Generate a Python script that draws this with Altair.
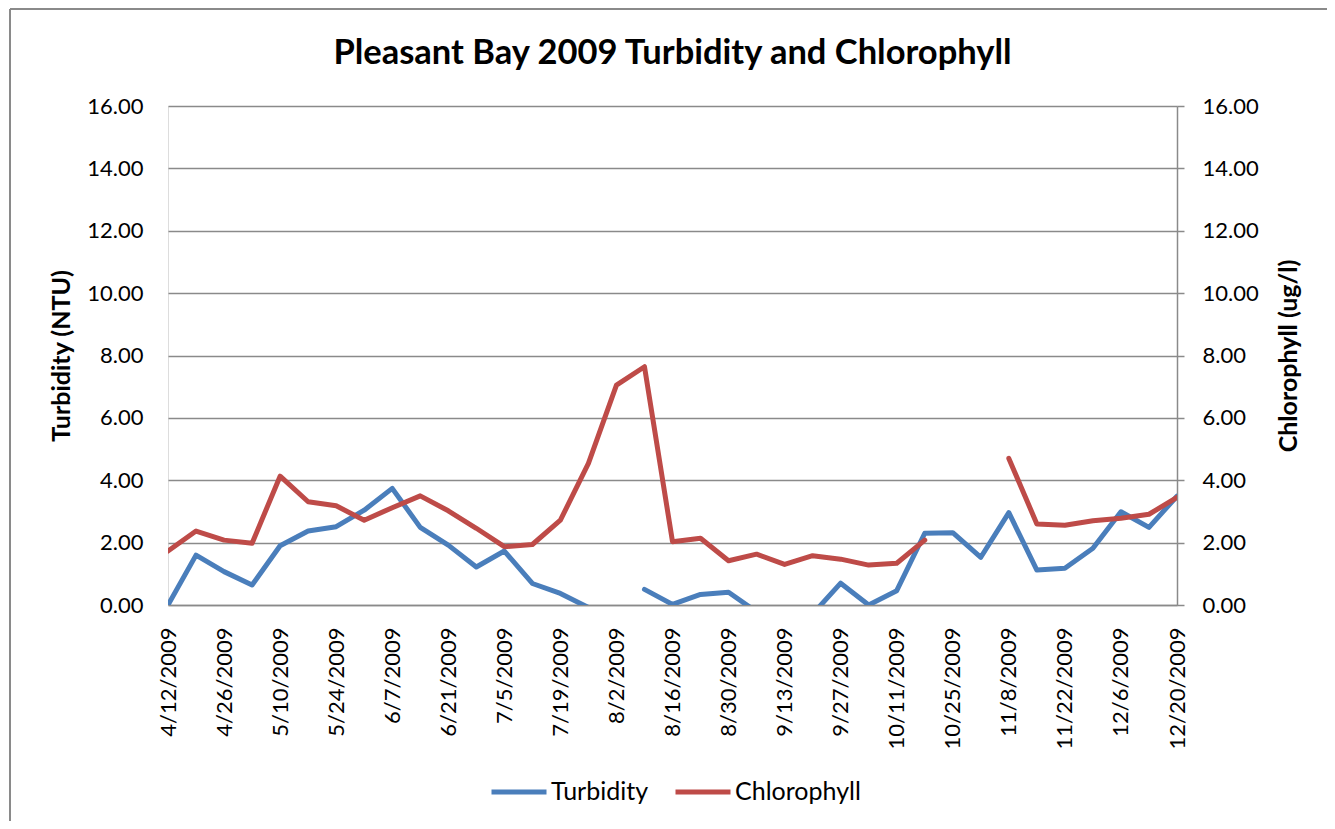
import altair as alt
import pandas as pd

dates = ["4/12/2009", "4/19/2009", "4/26/2009", "5/3/2009", "5/10/2009", "5/17/2009",
         "5/24/2009", "5/31/2009", "6/7/2009", "6/14/2009", "6/21/2009", "6/28/2009",
         "7/5/2009", "7/12/2009", "7/19/2009", "7/26/2009", "8/2/2009", "8/9/2009",
         "8/16/2009", "8/23/2009", "8/30/2009", "9/6/2009", "9/13/2009", "9/20/2009",
         "9/27/2009", "10/4/2009", "10/11/2009", "10/18/2009", "10/25/2009", "11/1/2009",
         "11/8/2009", "11/15/2009", "11/22/2009", "11/29/2009", "12/6/2009", "12/13/2009",
         "12/20/2009"]

turbidity = [0.00, 1.60, 1.07, 0.64, 1.90, 2.37, 2.51, 3.04, 3.74, 2.49,
             1.92, 1.22, 1.73, 0.69, 0.37, -0.08, None, 0.50, 0.02, 0.34,
             0.41, -0.22, None, -0.29, 0.70, 0.00, 0.46, 2.30, 2.32, 1.53,
             2.96, 1.12, 1.18, 1.82, 2.99, 2.49, 3.49]

chlorophyll = [1.73, 2.37, 2.08, 1.98, 4.13, 3.31, 3.18, 2.72, 3.12, 3.50,
               3.02, 2.46, 1.87, 1.94, 2.72, 4.54, 7.05, 7.64, 2.03, 2.14,
               1.42, 1.63, 1.30, 1.58, 1.47, 1.28, 1.34, 2.08, None, None,
               4.70, 2.60, 2.56, 2.70, 2.78, 2.91, 3.45]

series_names = ["Turbidity", "Chlorophyll"]
series_colors = ["#4A7EBB", "#BE4B48"]
y_ticks = [0, 2, 4, 6, 8, 10, 12, 14, 16]
title_text = "Pleasant Bay 2009 Turbidity and Chlorophyll"

df_t = pd.DataFrame({"date": dates, "value": turbidity, "series": "Turbidity"})
df_c = pd.DataFrame({"date": dates, "value": chlorophyll, "series": "Chlorophyll"})

FONT = "Lato"
GRID = "#8A8A8A"

x_enc = alt.X(
    "date:O",
    sort=dates,
    scale=alt.Scale(type="point", padding=0),
    axis=alt.Axis(
        values=dates[::2],
        title=None,
        labelAngle=270,
        labelAlign="right",
        labelBaseline="middle",
        labelFontSize=22,
        labelFont=FONT,
        labelColor="black",
        labelPadding=22,
        ticks=False,
        domain=True,
        domainColor=GRID,
        domainWidth=1.5,
        grid=False,
        labelOverlap=False,
    ),
)

color_enc = alt.Color(
    "series:N",
    scale=alt.Scale(domain=series_names, range=series_colors),
    title=None,
    legend=alt.Legend(
        orient="none",
        legendX=321,
        legendY=656,
        direction="horizontal",
        symbolType="stroke",
        symbolSize=3025,
        symbolStrokeWidth=5,
        labelFontSize=25,
        labelFont=FONT,
        labelColor="black",
        labelOffset=2,
        columnPadding=16,
    ),
)

line_t = alt.Chart(df_t).mark_line(
    strokeWidth=5, clip=True, strokeCap="round", strokeJoin="round"
).encode(
    x=x_enc,
    y=alt.Y(
        "value:Q",
        scale=alt.Scale(domain=[0, 16], nice=False, zero=True),
        axis=alt.Axis(
            orient="left",
            values=y_ticks,
            format=".2f",
            title="Turbidity (NTU)",
            titleFont=FONT,
            titleFontSize=25,
            titleFontWeight="bold",
            titleColor="black",
            titleBaseline="bottom",
            titlePadding=12,
            labelFont=FONT,
            labelFontSize=22,
            labelColor="black",
            labelPadding=25,
            ticks=False,
            domain=False,
            grid=True,
            gridColor=GRID,
            gridWidth=1.5,
        ),
    ),
    color=color_enc,
)

line_c = alt.Chart(df_c).mark_line(
    strokeWidth=5, clip=True, strokeCap="round", strokeJoin="round"
).encode(
    x=x_enc,
    y=alt.Y(
        "value:Q",
        scale=alt.Scale(domain=[0, 16], nice=False, zero=True),
        axis=alt.Axis(
            orient="right",
            values=y_ticks,
            format=".2f",
            title="Chlorophyll (ug/l)",
            titleAngle=270,
            titleBaseline="top",
            titleFont=FONT,
            titleFontSize=25,
            titleFontWeight="bold",
            titleColor="black",
            titlePadding=18,
            labelFont=FONT,
            labelFontSize=22,
            labelColor="black",
            labelPadding=18,
            ticks=True,
            tickSize=7,
            tickColor=GRID,
            tickWidth=1.5,
            domain=True,
            domainColor=GRID,
            domainWidth=1.5,
            grid=False,
        ),
    ),
    color=color_enc,
)

frame_data = alt.Data(values=[{"k": 1}])
frame_left = alt.Chart(frame_data).mark_rule(color="#8A8A8A", strokeWidth=2).encode(
    x=alt.value(-158), y=alt.value(-97), y2=alt.value(740)
)
frame_top = alt.Chart(frame_data).mark_rule(color="#8A8A8A", strokeWidth=2).encode(
    x=alt.value(-158), x2=alt.value(1170), y=alt.value(-97)
)
title_mark = alt.Chart(alt.Data(values=[{"t": title_text}])).mark_text(
    font=FONT, fontSize=34.5, fontWeight="bold", color="black",
    align="center", baseline="alphabetic"
).encode(
    x=alt.value(504.5), y=alt.value(-42), text="t:N"
)

chart = (
    alt.layer(frame_left, frame_top, title_mark, line_t, line_c)
    .resolve_scale(y="independent")
    .properties(
        width=1009,
        height=499,
        padding={"left": 160, "top": 98, "right": 150, "bottom": 216},
        autosize=alt.AutoSizeParams(type="none"),
    )
    .configure_view(stroke=None)
    .configure(background="white")
)

chart.save("out.html", embed_options={"renderer": "svg", "actions": False})
